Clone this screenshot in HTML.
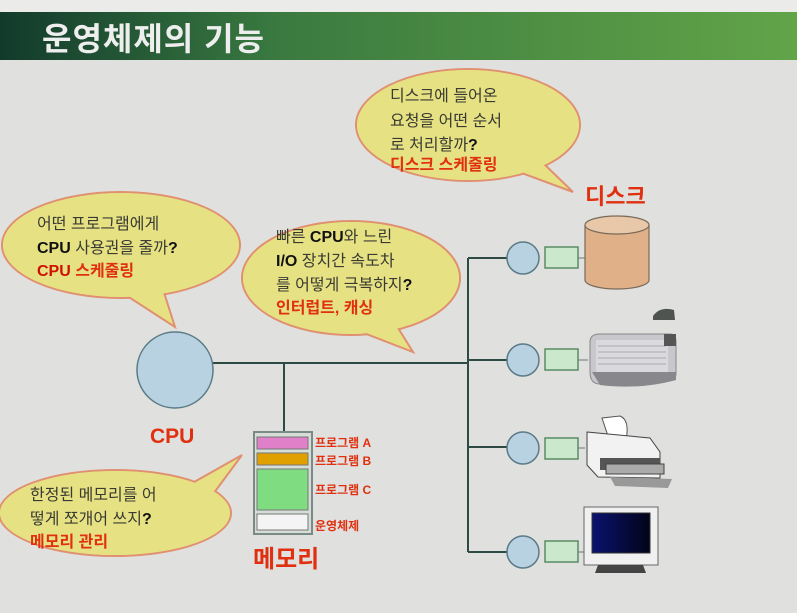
<!DOCTYPE html>
<html><head><meta charset="utf-8"><style>
html,body{margin:0;padding:0;background:#e0e0de;}
svg{display:block;}
text{font-family:"Liberation Sans","Noto Sans CJK KR","NanumGothic",sans-serif;}
.q{font-size:16px;fill:#3a3a32;}
.r{font-size:16px;fill:#e03010;font-weight:bold;}
.b{fill:#111;font-weight:bold;}
.m{font-size:12px;fill:#e03010;font-weight:bold;}
</style></head><body>
<svg width="797" height="613" viewBox="0 0 797 613" xmlns="http://www.w3.org/2000/svg">
<defs>
<linearGradient id="g" x1="0" x2="1"><stop offset="0" stop-color="#123a2c"/><stop offset="0.35" stop-color="#3a7a40"/><stop offset="1" stop-color="#62a448"/></linearGradient>
<linearGradient id="scr" x1="0" x2="1"><stop offset="0" stop-color="#0a1270"/><stop offset="1" stop-color="#020418"/></linearGradient>
</defs>
<rect width="797" height="613" fill="#e0e0de"/>
<rect x="0" y="0" width="797" height="12" fill="#ebebea"/>
<rect x="0" y="12" width="797" height="48" fill="url(#g)"/>
<text x="42" y="50" font-size="32" font-weight="bold" fill="#eeeeee" letter-spacing="1">운영체제의 기능</text>

<g stroke="#2e4a44" stroke-width="2" fill="none">
<line x1="212" y1="363" x2="468" y2="363"/>
<line x1="284" y1="363" x2="284" y2="432"/>
<line x1="468" y1="258" x2="468" y2="552"/>
<line x1="468" y1="258" x2="508" y2="258"/>
<line x1="468" y1="552" x2="508" y2="552"/>
<line x1="468" y1="447" x2="508" y2="447"/>
<line x1="468" y1="360" x2="508" y2="360"/>
</g>
<g stroke="#5a7a86" stroke-width="1.5">
<g fill="#b8d2e2">
<circle cx="523" cy="258" r="16"/><circle cx="523" cy="360" r="16"/><circle cx="523" cy="448" r="16"/><circle cx="523" cy="552" r="16"/>
</g>
<g fill="#cce8cc" stroke="#5a8a66">
<rect x="545" y="247" width="33" height="21"/><rect x="545" y="349" width="33" height="21"/><rect x="545" y="438" width="33" height="21"/><rect x="545" y="541" width="33" height="21"/>
</g>
</g>
<g stroke="#6a7a70" stroke-width="1"><line x1="578" y1="258" x2="585" y2="258"/><line x1="578" y1="360" x2="588" y2="360"/><line x1="578" y1="448" x2="585" y2="448"/><line x1="578" y1="552" x2="585" y2="552"/></g>

<path d="M585 225 V280 A32 9 0 0 0 649 280 V225" fill="#e0b088" stroke="#7a6a5a" stroke-width="1.2"/>
<ellipse cx="617" cy="225" rx="32" ry="9" fill="#e8c8a8" stroke="#7a6a5a" stroke-width="1.2"/>
<text x="585" y="204" font-size="22" font-weight="bold" fill="#e03010">디스크</text>

<path d="M590 342 Q590 334 600 334 L670 334 Q676 334 676 342 L676 375 L600 384 Q590 384 590 372 Z" fill="#c8c8cc" stroke="#888" />
<rect x="596" y="340" width="72" height="32" fill="#dadade"/>
<g stroke="#999" stroke-width="0.8"><line x1="598" y1="346" x2="666" y2="346"/><line x1="598" y1="352" x2="666" y2="352"/><line x1="598" y1="358" x2="666" y2="358"/><line x1="598" y1="364" x2="666" y2="364"/></g>
<path d="M592 372 L676 372 L676 380 Q640 390 600 385 Z" fill="#88888c"/>
<path d="M653 316 Q660 306 674 310 L675 320 L653 320 Z" fill="#505450"/>
<rect x="664" y="334" width="12" height="12" fill="#555"/>

<path d="M602 418 L620 416 Q630 420 626 440 L610 442 Z" fill="#fff" stroke="#555"/>
<path d="M587 432 L650 438 L660 452 L660 478 L598 477 L587 465 Z" fill="#f2f2f2" stroke="#444"/>
<rect x="600" y="458" width="60" height="12" fill="#555"/>
<rect x="606" y="464" width="58" height="10" fill="#aaa" stroke="#444"/>
<path d="M610 477 L672 479 L668 488 L615 486 Z" fill="#999"/>

<rect x="584" y="507" width="74" height="58" fill="#f0f0f0" stroke="#666"/>
<rect x="592" y="513" width="58" height="40" fill="url(#scr)" stroke="#333"/>
<path d="M598 565 L643 565 L646 573 L595 573 Z" fill="#444"/>

<rect x="254" y="432" width="58" height="102" fill="#d6dcd6" stroke="#7a8a86" stroke-width="2"/>
<rect x="257" y="437" width="51" height="12" fill="#e080c8" stroke="#777"/>
<rect x="257" y="453" width="51" height="12" fill="#e0a000" stroke="#777"/>
<rect x="257" y="469" width="51" height="41" fill="#80dc80" stroke="#777"/>
<rect x="257" y="514" width="51" height="16" fill="#f4f4f4" stroke="#777"/>
<text x="315" y="447" class="m">프로그램 A</text>
<text x="315" y="465" class="m">프로그램 B</text>
<text x="315" y="494" class="m">프로그램 C</text>
<text x="315" y="530" class="m">운영체제</text>
<text x="253" y="567" font-size="24" font-weight="bold" fill="#e03010">메모리</text>

<circle cx="175" cy="370" r="38" fill="#b8d2e2" stroke="#5a7a86" stroke-width="1.5"/>
<text x="150" y="443" font-size="21" font-weight="bold" fill="#e03010">CPU</text>

<!-- bubbles: outlined shapes, then fill-only ellipses to hide seams -->
<g fill="#e6e284" stroke="#e09070" stroke-width="2">
<ellipse cx="468" cy="125" rx="112" ry="56"/>
<polygon points="500,165 573,192 540,160"/>
<ellipse cx="121" cy="245" rx="119" ry="53"/>
<polygon points="110,285 175,327 160,280"/>
<ellipse cx="351" cy="278" rx="109" ry="57"/>
<polygon points="330,320 413,352 390,315"/>
<ellipse cx="115" cy="513" rx="116" ry="43"/>
<polygon points="180,490 242,455 205,505"/>
</g>
<g fill="#e6e284">
<ellipse cx="468" cy="125" rx="111" ry="55"/>
<ellipse cx="121" cy="245" rx="118" ry="52"/>
<ellipse cx="351" cy="278" rx="108" ry="56"/>
<ellipse cx="115" cy="513" rx="115" ry="42"/>
</g>

<text x="390" y="101" class="q">디스크에 들어온</text>
<text x="390" y="126" class="q">요청을 어떤 순서</text>
<text x="390" y="150" class="q">로 처리할까<tspan class="b">?</tspan></text>
<text x="390" y="170" class="r">디스크 스케줄링</text>

<text x="37" y="229" class="q">어떤 프로그램에게</text>
<text x="37" y="253" class="q"><tspan class="b">CPU</tspan> 사용권을 줄까<tspan class="b">?</tspan></text>
<text x="37" y="276" class="r"><tspan fill="#d01000">CPU</tspan> 스케줄링</text>

<text x="276" y="242" class="q">빠른 <tspan class="b">CPU</tspan>와 느린</text>
<text x="276" y="266" class="q"><tspan class="b">I/O</tspan> 장치간 속도차</text>
<text x="276" y="290" class="q">를 어떻게 극복하지<tspan class="b">?</tspan></text>
<text x="276" y="313" class="r">인터럽트, 캐싱</text>

<text x="30" y="500" class="q">한정된 메모리를 어</text>
<text x="30" y="524" class="q">떻게 쪼개어 쓰지<tspan class="b">?</tspan></text>
<text x="30" y="547" class="r">메모리 관리</text>
</svg>
</body></html>
